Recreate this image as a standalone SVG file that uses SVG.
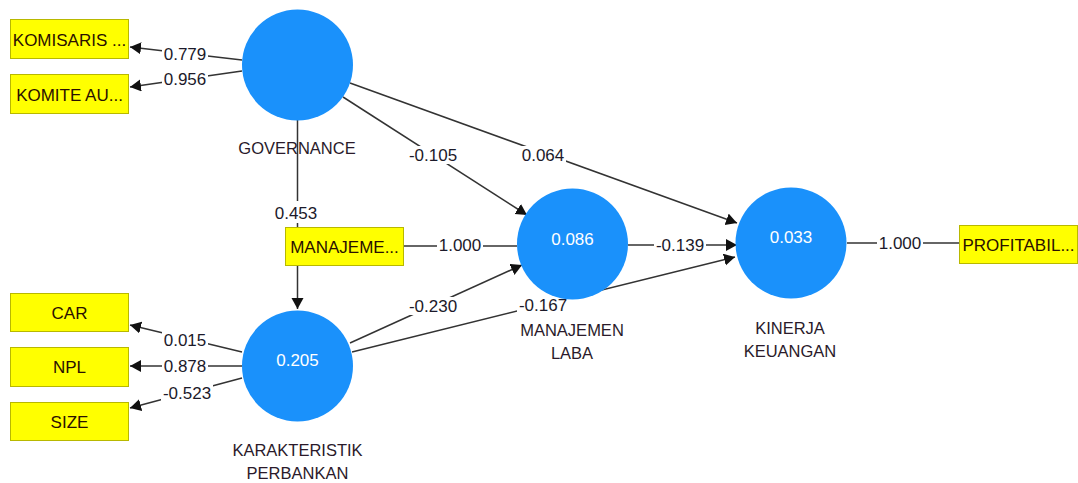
<svg xmlns="http://www.w3.org/2000/svg" width="1078" height="483" viewBox="0 0 1078 483">
<style>
.bg{fill:#ffffff}
.ln{stroke:#333333;stroke-width:1.5;fill:none}
.lbg{fill:#ffffff}
.lt{font-family:"Liberation Sans",Arial,sans-serif;font-size:17px;fill:#1c1a2a;text-anchor:middle}
.lv{fill:#1a91fb}
.vt{font-family:"Liberation Sans",Arial,sans-serif;font-size:17px;fill:#ffffff;text-anchor:middle}
.nl{font-family:"Liberation Sans",Arial,sans-serif;font-size:16.5px;fill:#2a1a2a;text-anchor:middle}
.mv{fill:#ffff00;stroke:#b8b800;stroke-width:1}
.mt{font-family:"Liberation Sans",Arial,sans-serif;font-size:17px;fill:#2a1000;text-anchor:middle}
</style>
<defs>
<marker id="arr" markerUnits="userSpaceOnUse" markerWidth="13" markerHeight="13" refX="11" refY="6" orient="auto">
<path d="M0,0 L11,6 L0,12 z" fill="#111111"/>
</marker>
</defs>
<rect class="bg" x="0" y="0" width="1078" height="483"/>
<g id="connectors">
<line class="ln" x1="242" y1="60" x2="130" y2="47" marker-end="url(#arr)"/>
<line class="ln" x1="242" y1="71" x2="130" y2="87" marker-end="url(#arr)"/>
<line class="ln" x1="297.5" y1="120" x2="297.5" y2="309" marker-end="url(#arr)"/>
<line class="ln" x1="343" y1="97" x2="527" y2="215" marker-end="url(#arr)"/>
<line class="ln" x1="350" y1="83" x2="737" y2="223" marker-end="url(#arr)"/>
<line class="ln" x1="404" y1="246" x2="517" y2="246"/>
<line class="ln" x1="628" y1="245" x2="737" y2="245" marker-end="url(#arr)"/>
<line class="ln" x1="350" y1="343" x2="522" y2="265" marker-end="url(#arr)"/>
<line class="ln" x1="352" y1="352" x2="735" y2="257" marker-end="url(#arr)"/>
<line class="ln" x1="242" y1="352" x2="130" y2="325" marker-end="url(#arr)"/>
<line class="ln" x1="242" y1="366" x2="130" y2="366" marker-end="url(#arr)"/>
<line class="ln" x1="242" y1="378" x2="130" y2="408" marker-end="url(#arr)"/>
<line class="ln" x1="847" y1="243" x2="959" y2="243"/>
<rect class="lbg" x="162" y="45" width="46" height="17"/>
<text class="lt" x="185" y="60">0.779</text>
<rect class="lbg" x="162" y="70" width="46" height="17"/>
<text class="lt" x="185" y="85">0.956</text>
<rect class="lbg" x="273" y="201" width="46" height="22"/>
<text class="lt" x="296" y="219">0.453</text>
<rect class="lbg" x="407" y="146" width="52" height="18"/>
<text class="lt" x="433" y="161">-0.105</text>
<rect class="lbg" x="520" y="146" width="46" height="18"/>
<text class="lt" x="543" y="161">0.064</text>
<rect class="lbg" x="437" y="237" width="46" height="17"/>
<text class="lt" x="460" y="251">1.000</text>
<rect class="lbg" x="654" y="237" width="52" height="17"/>
<text class="lt" x="680" y="251">-0.139</text>
<rect class="lbg" x="407" y="297" width="52" height="18"/>
<text class="lt" x="433" y="312">-0.230</text>
<rect class="lbg" x="517" y="296" width="52" height="18"/>
<text class="lt" x="543" y="311">-0.167</text>
<rect class="lbg" x="162" y="332" width="46" height="17"/>
<text class="lt" x="185" y="346">0.015</text>
<rect class="lbg" x="162" y="358" width="46" height="17"/>
<text class="lt" x="185" y="372">0.878</text>
<rect class="lbg" x="161" y="385" width="52" height="17"/>
<text class="lt" x="187" y="399">-0.523</text>
<rect class="lbg" x="877" y="235" width="46" height="17"/>
<text class="lt" x="900" y="249">1.000</text>
</g>
<g id="governance">
<circle class="lv" cx="297.5" cy="65" r="55.5"/>
<text class="nl" x="297" y="154">GOVERNANCE</text>
</g>
<g id="karakteristik-perbankan">
<circle class="lv" cx="297.5" cy="366" r="55.5"/>
<text class="vt" x="297.5" y="366">0.205</text>
<text class="nl" x="297.5" y="456">KARAKTERISTIK</text>
<text class="nl" x="297.5" y="479">PERBANKAN</text>
</g>
<g id="manajemen-laba">
<circle class="lv" cx="572.5" cy="244" r="55.5"/>
<text class="vt" x="572.5" y="245">0.086</text>
<text class="nl" x="572" y="336">MANAJEMEN</text>
<text class="nl" x="572" y="359">LABA</text>
</g>
<g id="kinerja-keuangan">
<circle class="lv" cx="791" cy="243" r="55.5"/>
<text class="vt" x="791" y="243">0.033</text>
<text class="nl" x="790" y="334">KINERJA</text>
<text class="nl" x="790" y="357">KEUANGAN</text>
</g>
<g id="komisaris">
<rect class="mv" x="10.5" y="19.5" width="118" height="39"/>
<text class="mt" x="69.5" y="45.5">KOMISARIS ...</text>
</g>
<g id="komite-audit">
<rect class="mv" x="10.5" y="74.5" width="118" height="39"/>
<text class="mt" x="69.5" y="100.5">KOMITE AU...</text>
</g>
<g id="manajemen-indicator">
<rect class="mv" x="285.5" y="227.5" width="118" height="38"/>
<text class="mt" x="344.5" y="253">MANAJEME...</text>
</g>
<g id="car">
<rect class="mv" x="10.5" y="293.5" width="118" height="38"/>
<text class="mt" x="69.5" y="319">CAR</text>
</g>
<g id="npl">
<rect class="mv" x="10.5" y="347.5" width="118" height="39"/>
<text class="mt" x="69.5" y="373">NPL</text>
</g>
<g id="size">
<rect class="mv" x="10.5" y="402.5" width="118" height="38"/>
<text class="mt" x="69.5" y="428">SIZE</text>
</g>
<g id="profitabilitas">
<rect class="mv" x="959.5" y="225.5" width="118" height="38"/>
<text class="mt" x="1018.5" y="251">PROFITABIL...</text>
</g>
</svg>
